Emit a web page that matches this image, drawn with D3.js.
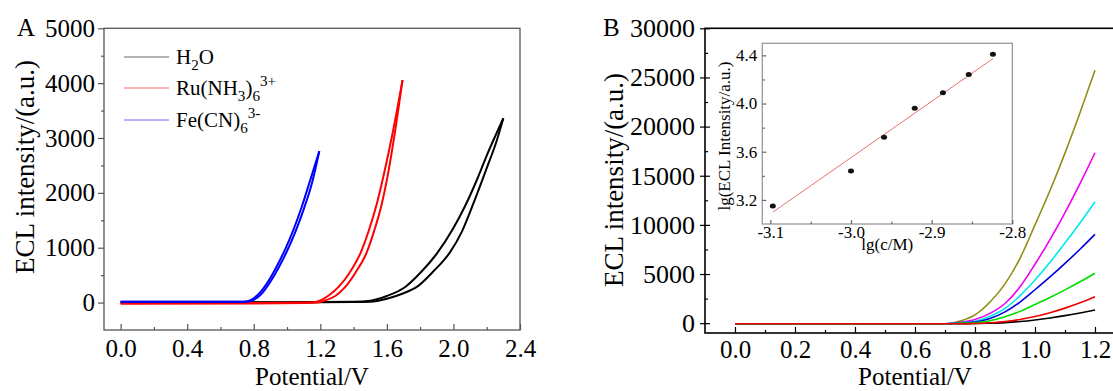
<!DOCTYPE html>
<html>
<head>
<meta charset="utf-8">
<script src="https://cdn.jsdelivr.net/npm/d3@7"></script>
<style>
body { margin: 0; background: #fff; }
svg { display: block; }
</style>
</head>
<body>
<script>
const W = 1113, H = 391;
const FONT = "'Liberation Serif', 'Times New Roman', 'DejaVu Serif', serif";

// ---- panel A data: ECL intensity vs potential, forward / reverse scan ----
const h2oFwd = [[0,0],[0.4,5],[0.8,0],[1.2,5],[1.4,10],[1.5,15],[1.6,70],[1.7,170],[1.78,285],[1.88,570],[1.98,920],[2.05,1290],[2.12,1807],[2.2,2450],[2.26,2950],[2.3,3360]];
const h2oRev = [[0,0],[0.8,5],[1.2,10],[1.4,15],[1.5,35],[1.6,120],[1.71,285],[1.8,540],[1.9,894],[2.0,1360],[2.07,1760],[2.14,2230],[2.21,2750],[2.3,3360]];
const ruFwd = [[0,-15],[0.4,-15],[0.8,-15],[1.1,-10],[1.18,0],[1.22,30],[1.29,120],[1.35,285],[1.41,540],[1.476,894],[1.525,1320],[1.57,1807],[1.61,2400],[1.644,3022],[1.694,4056]];
const ruRev = [[0,-15],[0.8,-10],[1.15,0],[1.2,40],[1.25,130],[1.31,285],[1.375,540],[1.44,894],[1.49,1300],[1.54,1807],[1.585,2380],[1.63,3022],[1.694,4056]];
const feFwd = [[0,15],[0.4,15],[0.75,15],[0.8,50],[0.85,170],[0.9,380],[0.95,640],[1.0,940],[1.05,1290],[1.1,1700],[1.15,2180],[1.194,2760]];
const feRev = [[0,15],[0.4,15],[0.74,15],[0.79,60],[0.84,190],[0.89,400],[0.94,670],[0.99,980],[1.04,1340],[1.09,1760],[1.14,2240],[1.194,2760]];

const aColors = ["#000000", "#ff0000", "#0000ff"];
const aLabels = [
  [["H", 0], ["2", "sub"], ["O", 0]],
  [["Ru(NH", 0], ["3", "sub"], [")", 0], ["6", "sub"], ["3+", "sup"]],
  [["Fe(CN)", 0], ["6", "sub"], ["3-", "sup"]]
];
const aXTicks = [0, 0.4, 0.8, 1.2, 1.6, 2.0, 2.4];
const aXMinor = [0.2, 0.6, 1.0, 1.4, 1.8, 2.2];
const aYTicks = [0, 1000, 2000, 3000, 4000, 5000];
const aYMinor = [500, 1500, 2500, 3500, 4500];

// ---- panel B data: ECL at increasing concentrations ----
const bV = [0, 0.7, 0.75, 0.8, 0.85, 0.9, 0.95, 1.0, 1.05, 1.1, 1.15, 1.2];
const bBlack   = [-60,-60,-60,-40,0,60,170,330,530,770,1040,1350];
const bRed     = [-60,-60,-60,-30,40,160,370,670,1060,1530,2070,2700];
const bGreen   = [-60,-60,0,40,250,650,1200,1900,2620,3390,4210,5080];
const bBlue    = [-60,-60,30,120,480,1150,2150,3400,4700,6080,7520,9040];
const bCyan    = [-60,-60,50,200,700,1500,2800,4400,6200,8150,10200,12360];
const bMagenta = [-60,-60,90,380,1000,2000,3700,6000,8500,11250,14200,17340];
const bOlive   = [-60,-60,220,850,2150,4000,6600,10000,13500,17300,21400,25740];
const bColors = ["#000000", "#ee0000", "#00dd00", "#0000e0", "#00e8f0", "#f000f0", "#8f8f14"];
const bXTicks = [0, 0.2, 0.4, 0.6, 0.8, 1.0, 1.2];
const bXMinor = [0.1, 0.3, 0.5, 0.7, 0.9, 1.1];
const bYTicks = [0, 5000, 10000, 15000, 20000, 25000, 30000];
const bYMinor = [2500, 7500, 12500, 17500, 22500, 27500];

// ---- inset: lg(I) vs lg(c) ----
const insX = [-3.097, -3.0, -2.959, -2.921, -2.886, -2.854, -2.824];
const insY = [3.15, 3.44, 3.72, 3.96, 4.09, 4.24, 4.41];
const fitSlope = 4.67, fitIntercept = 17.561;
const insXTicks = [-3.1, -3.0, -2.9, -2.8];
const insXMinor = [-3.05, -2.95, -2.85];
const insYTicks = [3.2, 3.6, 4.0, 4.4];
const insYMinor = [3.4, 3.8, 4.2];

const svg = d3.select("body").append("svg")
    .attr("width", W)
    .attr("height", H)
    .attr("font-family", FONT);

const fmt1 = d => d.toFixed(1);

function txt(g) {
    return g.append("text").attr("font-family", FONT).attr("fill", "#000");
}

function richText(g, parts, size) {
    const t = txt(g).attr("font-size", size);
    let cur = 0;
    parts.forEach(([s, pos]) => {
        const target = pos === "sub" ? 0.3 * size : pos === "sup" ? -0.42 * size : 0;
        t.append("tspan").text(s)
            .attr("dy", target - cur)
            .attr("font-size", pos ? size * 0.72 : size);
        cur = target;
    });
    return t;
}

function cleanAxis(g, size, color) {
    g.attr("font-family", FONT);
    g.select(".domain").remove();
    g.selectAll("line").attr("stroke", color).attr("stroke-width", 1.2);
    g.selectAll("text").attr("font-size", size).attr("font-family", FONT).attr("fill", "#000");
}

// ================= panel A =================
const ax = d3.scaleLinear().domain([-0.1, 2.4]).range([104, 520]);
const ay = d3.scaleLinear().domain([-500, 5000]).range([330, 28.3]);
const lineA = d3.line().x(d => ax(d[0])).y(d => ay(d[1])).curve(d3.curveMonotoneX);

const gA = svg.append("g");
const aFrame = "#555";

// y axis (ticks out)
gA.append("g").attr("transform", `translate(${ax.range()[0]},0)`)
    .call(d3.axisLeft(ay).tickValues(aYTicks).tickSize(6).tickPadding(3).tickFormat(d3.format("d")))
    .call(g => cleanAxis(g, 25, aFrame));
gA.append("g").attr("transform", `translate(${ax.range()[0]},0)`)
    .call(d3.axisLeft(ay).tickValues(aYMinor).tickSize(3).tickFormat(""))
    .call(g => cleanAxis(g, 25, aFrame));
// x axis (ticks in)
gA.append("g").attr("transform", `translate(0,${ay.range()[0]})`)
    .call(d3.axisBottom(ax).tickValues(aXTicks).tickSizeInner(-6).tickSizeOuter(0).tickPadding(9).tickFormat(fmt1))
    .call(g => cleanAxis(g, 25, aFrame));
gA.append("g").attr("transform", `translate(0,${ay.range()[0]})`)
    .call(d3.axisBottom(ax).tickValues(aXMinor).tickSizeInner(-3).tickSizeOuter(0).tickFormat(""))
    .call(g => cleanAxis(g, 25, aFrame));

gA.append("rect")
    .attr("x", ax.range()[0]).attr("y", ay.range()[1])
    .attr("width", ax.range()[1] - ax.range()[0])
    .attr("height", ay.range()[0] - ay.range()[1])
    .attr("fill", "none").attr("stroke", aFrame).attr("stroke-width", 1.3);

const aCurves = [[h2oFwd, h2oRev], [ruFwd, ruRev], [feFwd, feRev]];
aCurves.forEach((pair, i) => {
    pair.forEach(arr => {
        gA.append("path")
            .attr("d", lineA(arr))
            .attr("fill", "none")
            .attr("stroke", aColors[i])
            .attr("stroke-width", 2);
    });
});

// legend
const legRows = [57, 88, 120];
aLabels.forEach((parts, i) => {
    gA.append("line")
        .attr("x1", 124).attr("x2", 169)
        .attr("y1", legRows[i]).attr("y2", legRows[i])
        .attr("stroke", aColors[i]).attr("stroke-opacity", 0.6).attr("stroke-width", 1);
    richText(gA, parts, 21).attr("x", 176).attr("y", legRows[i] + 7);
});

txt(gA).attr("x", 17).attr("y", 36).attr("font-size", 25).text("A");
txt(gA)
    .attr("transform", "translate(34,167) rotate(-90)")
    .attr("text-anchor", "middle").attr("font-size", 27)
    .text("ECL intensity/(a.u.)");
txt(gA)
    .attr("x", (ax.range()[0] + ax.range()[1]) / 2).attr("y", 385)
    .attr("text-anchor", "middle").attr("font-size", 25)
    .text("Potential/V");

// ================= panel B =================
const bx = d3.scaleLinear().domain([-0.1, 1.3]).range([705, 1125]);
const by = d3.scaleLinear().domain([-1000, 30000]).range([333, 28.3]);
const gB = svg.append("g");

gB.append("g").attr("transform", `translate(${bx.range()[0]},0)`)
    .call(d3.axisLeft(by).tickValues(bYTicks).tickSize(5).tickPadding(5).tickFormat(d3.format("d")))
    .call(g => cleanAxis(g, 26, "#000"));
gB.append("g").attr("transform", `translate(${bx.range()[0]},0)`)
    .call(d3.axisLeft(by).tickValues(bYTicks).tickSizeInner(-5).tickSizeOuter(0).tickFormat(""))
    .call(g => cleanAxis(g, 26, "#000"));
gB.append("g").attr("transform", `translate(${bx.range()[0]},0)`)
    .call(d3.axisLeft(by).tickValues(bYMinor).tickSizeInner(-3).tickSizeOuter(0).tickFormat(""))
    .call(g => cleanAxis(g, 26, "#000"));
gB.append("g").attr("transform", `translate(0,${by.range()[0]})`)
    .call(d3.axisBottom(bx).tickValues(bXTicks).tickSizeInner(-6).tickSizeOuter(0).tickPadding(7).tickFormat(fmt1))
    .call(g => cleanAxis(g, 25, "#000"));
gB.append("g").attr("transform", `translate(0,${by.range()[0]})`)
    .call(d3.axisBottom(bx).tickValues(bXMinor).tickSizeInner(-3).tickSizeOuter(0).tickFormat(""))
    .call(g => cleanAxis(g, 25, "#000"));

gB.append("rect")
    .attr("x", bx.range()[0]).attr("y", by.range()[1])
    .attr("width", bx.range()[1] - bx.range()[0])
    .attr("height", by.range()[0] - by.range()[1])
    .attr("fill", "none").attr("stroke", "#000").attr("stroke-width", 1.6);

const bSeries = [bBlack, bOlive, bMagenta, bCyan, bBlue, bGreen, bRed];
const bSeriesColors = [bColors[0], bColors[6], bColors[5], bColors[4], bColors[3], bColors[2], bColors[1]];
const lineB = d3.line().x((d, i) => bx(bV[i])).y(d => by(d)).curve(d3.curveMonotoneX);
bSeries.forEach((vals, i) => {
    gB.append("path")
        .attr("d", lineB(vals))
        .attr("fill", "none")
        .attr("stroke", bSeriesColors[i])
        .attr("stroke-width", 1.6);
});

txt(gB).attr("x", 603).attr("y", 36).attr("font-size", 25).text("B");
txt(gB)
    .attr("transform", "translate(623,180) rotate(-90)")
    .attr("text-anchor", "middle").attr("font-size", 27)
    .text("ECL intensity/(a.u.)");
txt(gB)
    .attr("x", 915).attr("y", 385)
    .attr("text-anchor", "middle").attr("font-size", 25)
    .text("Potential/V");

// ---- inset ----
const ix = d3.scaleLinear().domain([-3.11, -2.8]).range([762.3, 1012.3]);
const iy = d3.scaleLinear().domain([3.0, 4.5]).range([224, 43.3]);
const gI = svg.append("g");
const iFrame = "#999";

gI.append("rect")
    .attr("x", ix.range()[0]).attr("y", iy.range()[1])
    .attr("width", ix.range()[1] - ix.range()[0])
    .attr("height", iy.range()[0] - iy.range()[1])
    .attr("fill", "#fff").attr("stroke", iFrame).attr("stroke-width", 1.3);

gI.append("g").attr("transform", `translate(0,${iy.range()[0]})`)
    .call(d3.axisBottom(ix).tickValues(insXTicks).tickSizeInner(-4).tickSizeOuter(0).tickPadding(2).tickFormat(fmt1))
    .call(g => cleanAxis(g, 17, "#666"));
gI.append("g").attr("transform", `translate(0,${iy.range()[0]})`)
    .call(d3.axisBottom(ix).tickValues(insXMinor).tickSizeInner(-2.5).tickSizeOuter(0).tickFormat(""))
    .call(g => cleanAxis(g, 17, "#666"));
gI.append("g").attr("transform", `translate(${ix.range()[0]},0)`)
    .call(d3.axisLeft(iy).tickValues(insYTicks).tickSizeInner(-4).tickSizeOuter(0).tickPadding(5).tickFormat(fmt1))
    .call(g => cleanAxis(g, 17, "#666"));
gI.append("g").attr("transform", `translate(${ix.range()[0]},0)`)
    .call(d3.axisLeft(iy).tickValues(insYMinor).tickSizeInner(-2.5).tickSizeOuter(0).tickFormat(""))
    .call(g => cleanAxis(g, 17, "#666"));

const fitX = d3.extent(insX);
gI.append("line")
    .attr("x1", ix(fitX[0])).attr("y1", iy(fitIntercept + fitSlope * fitX[0]))
    .attr("x2", ix(fitX[1])).attr("y2", iy(fitIntercept + fitSlope * fitX[1]))
    .attr("stroke", "#e87070").attr("stroke-width", 1);

gI.selectAll("ellipse.pt")
    .data(insX.map((x, i) => [x, insY[i]]))
    .enter().append("ellipse")
    .attr("class", "pt")
    .attr("cx", d => ix(d[0])).attr("cy", d => iy(d[1]))
    .attr("rx", 3).attr("ry", 2.5)
    .attr("fill", "#111");

txt(gI)
    .attr("transform", "translate(730,136) rotate(-90)")
    .attr("text-anchor", "middle").attr("font-size", 17)
    .text("lg(ECL Intensity/a.u.)");
txt(gI)
    .attr("x", (ix.range()[0] + ix.range()[1]) / 2).attr("y", 250)
    .attr("text-anchor", "middle").attr("font-size", 17)
    .text("lg(c/M)");
</script>
</body>
</html>
